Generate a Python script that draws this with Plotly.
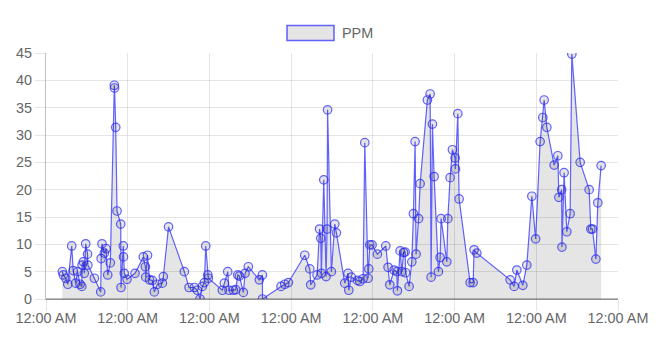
import pandas as pd
import plotly.graph_objects as go

# Hours since the first midnight on the chart
hours = [4.8, 5.1, 5.8, 6.4, 7.55, 8.0, 8.7, 9.3, 10.0, 10.5,
         10.6, 10.96, 11.25, 11.66, 12.2, 12.3, 14.2, 16.07, 16.2, 16.45,
         17.13, 17.63, 18.13, 18.89, 20.07, 20.13, 20.48, 20.86, 21.95, 22.03,
         22.71, 22.75, 23.0, 23.8, 26.15, 28.58, 29.2, 29.29, 29.82, 30.41,
         31.23, 31.82, 32.7, 34.17, 34.46, 35.99, 40.63, 42.01, 43.57, 44.45,
         45.24, 45.92, 46.51, 46.92, 47.51, 47.68, 51.8, 52.38, 53.38, 53.76,
         55.03, 55.73, 56.32, 56.79, 57.97, 58.46, 59.43, 62.66, 63.55, 63.6,
         69.04, 70.13, 71.19, 76.0, 77.47, 77.76, 79.62, 80.35, 80.7, 80.88,
         81.58, 82.26, 82.55, 82.7, 83.82, 84.82, 85.29, 87.75, 88.72, 88.93,
         89.69, 91.46, 92.16, 93.13, 93.63, 94.6, 94.8, 95.1, 95.77, 97.33,
         99.8, 100.47, 100.97, 102.24, 103.03, 103.21, 104.0, 104.5, 105.03, 105.47,
         105.62, 106.65, 107.44, 107.91, 108.41, 108.7, 109.44, 109.88, 112.02, 112.82,
         113.11, 113.49, 113.99, 115.26, 115.75, 116.05, 117.72, 118.02, 118.69, 119.37,
         120.16, 120.25, 120.95, 121.33, 124.57, 125.45, 125.74, 126.53, 136.32, 137.5,
         138.29, 140.05, 141.22, 142.7, 143.81, 145.13, 145.92, 146.31, 147.1, 149.25,
         150.33, 150.63, 151.45, 151.54, 152.17, 152.97, 153.94, 154.44, 156.89, 159.53,
         160.03, 160.5, 161.5, 162.08, 163.05]

ppm = [5.0, 4.4, 3.8, 2.7, 9.7, 5.2, 2.9, 5.0, 2.7, 2.3,
       6.2, 6.8, 4.7, 10.1, 8.2, 6.2, 3.8, 1.3, 7.4, 10.1,
       8.4, 9.2, 4.4, 6.6, 39.1, 38.6, 31.4, 16.1, 13.7, 2.1,
       9.7, 7.7, 4.7, 3.6, 4.7, 7.7, 5.9, 4.0, 8.0, 3.5,
       3.4, 1.3, 2.7, 2.9, 4.1, 13.2, 5.0, 2.1, 2.1, 1.6,
       0.0, 2.3, 3.0, 9.7, 4.4, 3.8, 1.6, 2.9, 5.0, 1.6,
       1.6, 1.7, 4.4, 4.2, 1.2, 4.7, 5.9, 3.5, 4.4, 0.0,
       2.3, 2.7, 3.0, 8.0, 5.5, 2.6, 4.4, 12.8, 11.1, 4.7,
       21.8, 4.1, 12.8, 34.6, 5.0, 13.7, 12.1, 2.9, 4.7, 1.6,
       4.0, 3.4, 3.2, 3.7, 28.6, 3.8, 5.5, 9.9, 9.9, 8.2,
       9.7, 5.8, 2.6, 5.3, 5.0, 1.5, 8.8, 5.0, 8.5, 8.6,
       4.8, 2.3, 6.8, 15.6, 28.8, 8.2, 14.7, 21.1, 36.4, 37.5,
       4.0, 32.0, 22.4, 5.0, 7.6, 14.7, 6.8, 14.7, 22.2, 27.3,
       25.8, 23.8, 33.9, 18.3, 3.0, 3.0, 9.0, 8.4, 3.5, 2.3,
       5.3, 2.5, 6.2, 18.8, 11.0, 28.8, 33.2, 36.4, 31.4, 24.5,
       26.2, 18.6, 20.0, 9.5, 23.1, 12.3, 15.6, 44.8, 25.0, 20.0,
       12.8, 12.8, 7.3, 17.6, 24.4]

series_name = "PPM"
start = pd.Timestamp("2020-01-01 00:00")
n_days = 7
times = [start + pd.Timedelta(hours=h) for h in hours]

W, H = 661, 342
L, R, T, B = 46, 43, 53, 43
plot_w = W - L - R
plot_h = H - T - B

line_col = "rgba(40,40,255,0.72)"
fill_col = "rgba(0,0,0,0.1)"
grid_col = "rgba(0,0,0,0.1)"
zero_col = "rgba(0,0,0,0.25)"
font = dict(family="Liberation Sans, Arial, Helvetica, sans-serif", size=14.4, color="#666666")

fig = go.Figure(go.Scatter(
    x=times, y=ppm, name=series_name, mode="lines+markers",
    line=dict(color=line_col, width=1.2),
    marker=dict(symbol="circle", size=8.5, color=fill_col,
                line=dict(color=line_col, width=1.2)),
    fill="tozeroy", fillcolor=fill_col,
))

def px_x(p):
    return (p - L) / plot_w

def px_y(p):
    return (H - B - p) / plot_h

fig.update_layout(
    width=W, height=H,
    margin=dict(l=L, r=R, t=T, b=B, pad=0),
    paper_bgcolor="white", plot_bgcolor="white",
    showlegend=False,
    font=font,
    xaxis=dict(
        type="date",
        range=[start, start + pd.Timedelta(days=n_days)],
        tick0=start, dtick=86400000, tickformat="%I:%M %p",
        showgrid=True, gridcolor=grid_col, gridwidth=1,
        ticks="outside", ticklen=11, tickcolor=grid_col,
        ticklabelstandoff=-5,
        showline=True, linecolor=zero_col, linewidth=1,
        tickfont=font, zeroline=False,
    ),
    yaxis=dict(
        range=[0, 45], dtick=5, tick0=0,
        showgrid=True, gridcolor=grid_col, gridwidth=1,
        ticks="outside", ticklen=10, tickcolor=grid_col,
        showline=True, linecolor=zero_col, linewidth=1,
        zeroline=True, zerolinecolor=zero_col,
        tickfont=font,
    ),
    shapes=[dict(type="rect", xref="paper", yref="paper",
                 x0=px_x(287), x1=px_x(334), y0=px_y(40.5), y1=px_y(25.5),
                 line=dict(color=line_col, width=1.5), fillcolor=fill_col)],
    annotations=[dict(text=series_name, xref="paper", yref="paper",
                      x=px_x(340), y=px_y(33), xanchor="left", yanchor="middle",
                      showarrow=False, font=font)],
)

fig.write_html("out.html", config={"displayModeBar": False})
